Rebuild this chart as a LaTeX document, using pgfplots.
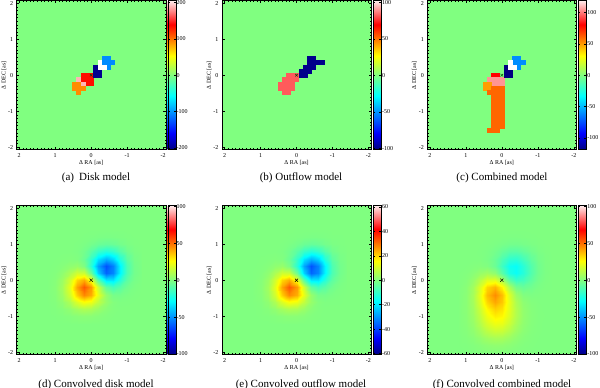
\documentclass[border=0pt]{standalone}
\usepackage{fontspec}
\setmainfont{Liberation Serif}
\usepackage{pgfplots}
\pgfplotsset{compat=1.18}

\definecolor{zerogreen}{RGB}{128,255,128}

\pgfplotsset{
  colormap={jetw}{rgb255(0cm)=(0,0,128); rgb255(11cm)=(0,0,255); rgb255(36cm)=(0,255,255); rgb255(50cm)=(128,255,128); rgb255(63cm)=(255,255,0); rgb255(84cm)=(255,0,0); rgb255(100cm)=(255,235,235)},
  /pgf/number format/assume math mode=true,
  panel/.style={
    width=149pt, height=149pt, scale only axis,
    xmin=-2.07, xmax=2.07, ymin=-2.07, ymax=2.07,
    x dir=reverse,
    xtick={-2,-1,0,1,2}, ytick={-2,-1,0,1,2},
    minor tick num=9,
    tick align=inside,
    major tick length=2.5pt, minor tick length=1.2pt,
    tick style={line width=0.3pt, black},
    axis line style={line width=0.4pt},
    tick label style={font=\fontsize{6}{7}\selectfont},
    label style={font=\fontsize{6}{7}\selectfont},
    xlabel={Δ RA [as]}, ylabel={Δ DEC [as]},
    xlabel style={at={(axis description cs:0.5,-0.088)}, anchor=center},
    ylabel style={at={(axis description cs:-0.086,0.5)}, anchor=center},
    axis background/.style={fill=zerogreen},
    axis on top,
    colormap name=jetw,
    colorbar,
    colorbar shift/.style={xshift=2pt},
    colorbar style={
      width=8pt,
      at={(parent axis.north east)}, anchor=north west,
      tick align=inside, major tick length=2pt,
      yticklabel style={font=\fontsize{6}{7}\selectfont, inner xsep=0.8pt},
    },
  },
  pix/.style={scatter, only marks, mark=square*, mark size=1.95pt, point meta=explicit,
    scatter/use mapped color={draw=mapped color, fill=mapped color}, mark options={line width=0.3pt}},
  wpix/.style={only marks, mark=square*, mark size=1.95pt, mark options={fill=white, draw=white, line width=0.3pt}},
  blur/.style={surf, shader=interp, mesh/cols=14, point meta=explicit},
  ctr/.style={only marks, mark=x, black, mark size=2.2pt, mark options={line width=0.5pt}},
}

\begin{document}
\begin{tikzpicture}
\useasboundingbox (0pt,0pt) rectangle (600pt,388pt);

% (a) disk model
\begin{axis}[panel, at={(16.7pt,238.3pt)}, anchor=south west,
  point meta min=-205, point meta max=205,
  colorbar style={ytick={-200,-100,0,100,200}}]
\addplot[pix] coordinates {
 (0,0) [135] (0.117,0) [135] (0.234,0) [135]
 (0,-0.117) [135] (0.117,-0.117) [135] (0.234,-0.117) [135]
 (0,-0.234) [135] (0.117,-0.234) [135]
 (0.351,-0.117) [190] (0.234,-0.234) [190]
 (0.351,-0.234) [92] (0.468,-0.234) [92] (0.234,-0.351) [92] (0.351,-0.351) [92] (0.468,-0.351) [92] (0.351,-0.468) [92]
 (-0.117,0) [-200] (-0.234,0) [-200] (-0.117,0.117) [-200] (-0.234,0.117) [-200] (-0.117,0.234) [-200]
 (-0.351,0.351) [-104] (-0.468,0.351) [-104] (-0.585,0.351) [-104] (-0.351,0.468) [-104] (-0.468,0.468) [-104] (-0.468,0.234) [-104]
};
\addplot[wpix] coordinates {(-0.234,0.234) (-0.351,0.234) (-0.234,0.351)};
\addplot[ctr, mark size=1.8pt, draw=black!70!green] coordinates {(0,0)};
\end{axis}

% (b) outflow model
\begin{axis}[panel, at={(222pt,238.3pt)}, anchor=south west,
  point meta min=-102, point meta max=102,
  colorbar style={ytick={-100,-50,0,50,100}}]
\addplot[pix] coordinates {
 (0,0) [82] (0.117,0) [82] (0.234,0) [82]
 (0,-0.117) [82] (0.117,-0.117) [82] (0.234,-0.117) [82] (0.351,-0.117) [82]
 (0.117,-0.234) [82] (0.234,-0.234) [82] (0.351,-0.234) [82] (0.468,-0.234) [82]
 (0.117,-0.351) [82] (0.234,-0.351) [82] (0.351,-0.351) [82] (0.468,-0.351) [82]
 (0.234,-0.468) [82] (0.351,-0.468) [82]
 (-0.117,0) [-100] (-0.234,0) [-100]
 (-0.117,0.117) [-100] (-0.234,0.117) [-100] (-0.351,0.117) [-100]
 (-0.234,0.234) [-100] (-0.351,0.234) [-100] (-0.468,0.234) [-100]
 (-0.351,0.351) [-100] (-0.468,0.351) [-100] (-0.585,0.351) [-100] (-0.702,0.351) [-100]
 (-0.351,0.468) [-100] (-0.468,0.468) [-100]
};
\addplot[ctr, mark size=1.8pt, draw=black!70!green] coordinates {(0,0)};
\end{axis}

% (c) combined model
\begin{axis}[panel, at={(427.3pt,238.3pt)}, anchor=south west,
  point meta min=-119, point meta max=119,
  colorbar style={ytick={-100,-50,0,50,100}}]
\addplot[pix] coordinates {
 (0.117,0) [81] (0.234,0) [81]
 (0,-0.117) [105] (0.117,-0.117) [105] (0.234,-0.117) [105] (0.351,-0.117) [105]
 (0,-0.234) [105] (0.117,-0.234) [105] (0.234,-0.234) [105]
 (0.351,-0.234) [50] (0.468,-0.234) [50] (0.351,-0.351) [50] (0.468,-0.351) [50]
 (0,-0.351) [61] (0.117,-0.351) [61] (0.234,-0.351) [61]
 (0,-0.468) [61] (0.117,-0.468) [61] (0.234,-0.468) [61] (0.351,-0.468) [61]
 (0,-0.585) [61] (0.117,-0.585) [61] (0.234,-0.585) [61]
 (0,-0.702) [61] (0.117,-0.702) [61] (0.234,-0.702) [61]
 (0,-0.819) [61] (0.117,-0.819) [61] (0.234,-0.819) [61]
 (0,-0.936) [61] (0.117,-0.936) [61] (0.234,-0.936) [61]
 (0,-1.053) [61] (0.117,-1.053) [61] (0.234,-1.053) [61]
 (0,-1.170) [61] (0.117,-1.170) [61] (0.234,-1.170) [61]
 (0,-1.287) [61] (0.117,-1.287) [61] (0.234,-1.287) [61]
 (0,-1.404) [61] (0.117,-1.404) [61] (0.234,-1.404) [61]
 (0.117,-1.521) [61] (0.234,-1.521) [61] (0.351,-1.521) [61]
 (-0.117,0) [-119] (-0.234,0) [-119] (-0.117,0.117) [-119] (-0.234,0.117) [-119] (-0.117,0.234) [-119]
 (-0.351,0.351) [-60] (-0.468,0.351) [-60] (-0.585,0.351) [-60] (-0.351,0.468) [-60] (-0.468,0.468) [-60] (-0.468,0.234) [-60]
};
\addplot[wpix] coordinates {(-0.234,0.234) (-0.351,0.234) (-0.234,0.351)};
\addplot[ctr, mark size=1.8pt, draw=black!70!green] coordinates {(0,0)};
\end{axis}

% (d) convolved disk model
\begin{axis}[panel, at={(16.7pt,33.3pt)}, anchor=south west,
  point meta min=-101, point meta max=101,
  colorbar style={ytick={-100,-50,0,50,100}}]
\addplot[blur] coordinates {
(-1.4,-1.2)[0] (-1.2,-1.2)[0] (-1.0,-1.2)[0] (-0.8,-1.2)[0] (-0.6,-1.2)[0] (-0.4,-1.2)[0.1] (-0.2,-1.2)[0.2] (0,-1.2)[0.3] (0.2,-1.2)[0.4] (0.4,-1.2)[0.3] (0.6,-1.2)[0.1] (0.8,-1.2)[0] (1.0,-1.2)[0] (1.2,-1.2)[0]
(-1.4,-1.0)[0] (-1.2,-1.0)[0] (-1.0,-1.0)[0] (-0.8,-1.0)[0] (-0.6,-1.0)[0.1] (-0.4,-1.0)[0.5] (-0.2,-1.0)[1.3] (0,-1.0)[2.1] (0.2,-1.0)[2.3] (0.4,-1.0)[1.7] (0.6,-1.0)[0.9] (0.8,-1.0)[0.3] (1.0,-1.0)[0.1] (1.2,-1.0)[0]
(-1.4,-0.8)[0] (-1.2,-0.8)[0] (-1.0,-0.8)[0] (-0.8,-0.8)[0] (-0.6,-0.8)[0.4] (-0.4,-0.8)[1.9] (-0.2,-0.8)[5.1] (0,-0.8)[8.5] (0.2,-0.8)[9.4] (0.4,-0.8)[7.0] (0.6,-0.8)[3.5] (0.8,-0.8)[1.2] (1.0,-0.8)[0.3] (1.2,-0.8)[0]
(-1.4,-0.6)[0] (-1.2,-0.6)[-0.1] (-1.0,-0.6)[-0.2] (-0.8,-0.6)[-0.3] (-0.6,-0.6)[0.6] (-0.4,-0.6)[4.6] (-0.2,-0.6)[13.2] (0,-0.6)[22.8] (0.2,-0.6)[25.5] (0.4,-0.6)[19.0] (0.6,-0.6)[9.4] (0.8,-0.6)[3.2] (1.0,-0.6)[0.7] (1.2,-0.6)[0.1]
(-1.4,-0.4)[0] (-1.2,-0.4)[-0.3] (-1.0,-0.4)[-1.0] (-0.8,-0.4)[-2.2] (-0.6,-0.4)[-2.0] (-0.4,-0.4)[4.6] (-0.2,-0.4)[21.1] (0,-0.4)[39.9] (0.2,-0.4)[46.0] (0.4,-0.4)[34.6] (0.6,-0.4)[17.2] (0.8,-0.4)[5.8] (1.0,-0.4)[1.3] (1.2,-0.4)[0.2]
(-1.4,-0.2)[-0.1] (-1.2,-0.2)[-0.9] (-1.0,-0.2)[-3.3] (-0.8,-0.2)[-8.5] (-0.6,-0.2)[-12.8] (-0.4,-0.2)[-6.8] (-0.2,-0.2)[15.8] (0,-0.2)[43.4] (0.2,-0.2)[54.3] (0.4,-0.2)[41.7] (0.6,-0.2)[20.9] (0.8,-0.2)[7.0] (1.0,-0.2)[1.6] (1.2,-0.2)[0.2]
(-1.4,0)[-0.3] (-1.2,0)[-1.9] (-1.0,0)[-7.5] (-0.8,0)[-19.7] (-0.6,0)[-33.4] (-0.4,0)[-32.9] (-0.2,0)[-9.1] (0,0)[23.7] (0.2,0)[40.2] (0.4,0)[33.1] (0.6,0)[17.0] (0.8,0)[5.7] (1.0,0)[1.3] (1.2,0)[0.2]
(-1.4,0.2)[-0.5] (-1.2,0.2)[-2.8] (-1.0,0.2)[-11.3] (-0.8,0.2)[-29.9] (-0.6,0.2)[-52.4] (-0.4,0.2)[-58.9] (-0.2,0.2)[-37.8] (0,0.2)[-4.7] (0.2,0.2)[15.6] (0.4,0.2)[16.6] (0.6,0.2)[9.1] (0.8,0.2)[3.1] (1.0,0.2)[0.7] (1.2,0.2)[0.1]
(-1.4,0.4)[-0.5] (-1.2,0.4)[-2.8] (-1.0,0.4)[-11.3] (-0.8,0.4)[-30.1] (-0.6,0.4)[-53.4] (-0.4,0.4)[-62.6] (-0.2,0.4)[-46.7] (0,0.4)[-19.4] (0.2,0.4)[-0.6] (0.4,0.4)[4.6] (0.6,0.4)[3.1] (0.8,0.4)[1.1] (1.0,0.4)[0.3] (1.2,0.4)[0]
(-1.4,0.6)[-0.3] (-1.2,0.6)[-1.9] (-1.0,0.6)[-7.6] (-0.8,0.6)[-20.2] (-0.6,0.6)[-36.1] (-0.4,0.6)[-42.9] (-0.2,0.6)[-33.5] (0,0.6)[-16.6] (0.2,0.6)[-4.4] (0.4,0.6)[0.1] (0.6,0.6)[0.6] (0.8,0.6)[0.3] (1.0,0.6)[0.1] (1.2,0.6)[0]
(-1.4,0.8)[-0.1] (-1.2,0.8)[-0.9] (-1.0,0.8)[-3.4] (-0.8,0.8)[-9.1] (-0.6,0.8)[-16.3] (-0.4,0.8)[-19.4] (-0.2,0.8)[-15.4] (0,0.8)[-8.1] (0.2,0.8)[-2.7] (0.4,0.8)[-0.5] (0.6,0.8)[0] (0.8,0.8)[0] (1.0,0.8)[0] (1.2,0.8)[0]
(-1.4,1.0)[0] (-1.2,1.0)[-0.3] (-1.0,1.0)[-1.0] (-0.8,1.0)[-2.7] (-0.6,1.0)[-4.9] (-0.4,1.0)[-5.8] (-0.2,1.0)[-4.7] (0,1.0)[-2.5] (0.2,1.0)[-0.9] (0.4,1.0)[-0.2] (0.6,1.0)[0] (0.8,1.0)[0] (1.0,1.0)[0] (1.2,1.0)[0]
(-1.4,1.2)[0] (-1.2,1.2)[-0.1] (-1.0,1.2)[-0.2] (-0.8,1.2)[-0.6] (-0.6,1.2)[-1.0] (-0.4,1.2)[-1.2] (-0.2,1.2)[-0.9] (0,1.2)[-0.5] (0.2,1.2)[-0.2] (0.4,1.2)[0] (0.6,1.2)[0] (0.8,1.2)[0] (1.0,1.2)[0] (1.2,1.2)[0]
(-1.4,1.4)[0] (-1.2,1.4)[0] (-1.0,1.4)[0] (-0.8,1.4)[-0.1] (-0.6,1.4)[-0.1] (-0.4,1.4)[-0.2] (-0.2,1.4)[-0.1] (0,1.4)[-0.1] (0.2,1.4)[0] (0.4,1.4)[0] (0.6,1.4)[0] (0.8,1.4)[0] (1.0,1.4)[0] (1.2,1.4)[0]
};
\addplot[ctr] coordinates {(0,0)};
\end{axis}

% (e) convolved outflow model
\begin{axis}[panel, at={(222pt,33.3pt)}, anchor=south west,
  point meta min=-61, point meta max=61,
  colorbar style={ytick={-60,-40,-20,0,20,40,60}}]
\addplot[blur] coordinates {
(-1.4,-1.2)[0] (-1.2,-1.2)[0] (-1.0,-1.2)[0] (-0.8,-1.2)[0] (-0.6,-1.2)[0] (-0.4,-1.2)[0.1] (-0.2,-1.2)[0.1] (0,-1.2)[0.2] (0.2,-1.2)[0.2] (0.4,-1.2)[0.2] (0.6,-1.2)[0.1] (0.8,-1.2)[0] (1.0,-1.2)[0] (1.2,-1.2)[0]
(-1.4,-1.0)[0] (-1.2,-1.0)[0] (-1.0,-1.0)[0] (-0.8,-1.0)[0] (-0.6,-1.0)[0.1] (-0.4,-1.0)[0.3] (-0.2,-1.0)[0.8] (0,-1.0)[1.3] (0.2,-1.0)[1.4] (0.4,-1.0)[1.0] (0.6,-1.0)[0.5] (0.8,-1.0)[0.2] (1.0,-1.0)[0.1] (1.2,-1.0)[0]
(-1.4,-0.8)[0] (-1.2,-0.8)[0] (-1.0,-0.8)[0] (-0.8,-0.8)[0] (-0.6,-0.8)[0.2] (-0.4,-0.8)[1.1] (-0.2,-0.8)[3.1] (0,-0.8)[5.1] (0.2,-0.8)[5.6] (0.4,-0.8)[4.2] (0.6,-0.8)[2.1] (0.8,-0.8)[0.7] (1.0,-0.8)[0.2] (1.2,-0.8)[0]
(-1.4,-0.6)[0] (-1.2,-0.6)[-0.1] (-1.0,-0.6)[-0.1] (-0.8,-0.6)[-0.2] (-0.6,-0.6)[0.4] (-0.4,-0.6)[2.8] (-0.2,-0.6)[7.9] (0,-0.6)[13.7] (0.2,-0.6)[15.3] (0.4,-0.6)[11.4] (0.6,-0.6)[5.6] (0.8,-0.6)[1.9] (1.0,-0.6)[0.4] (1.2,-0.6)[0.1]
(-1.4,-0.4)[0] (-1.2,-0.4)[-0.2] (-1.0,-0.4)[-0.6] (-0.8,-0.4)[-1.3] (-0.6,-0.4)[-1.2] (-0.4,-0.4)[2.8] (-0.2,-0.4)[12.7] (0,-0.4)[23.9] (0.2,-0.4)[27.6] (0.4,-0.4)[20.8] (0.6,-0.4)[10.3] (0.8,-0.4)[3.5] (1.0,-0.4)[0.8] (1.2,-0.4)[0.1]
(-1.4,-0.2)[-0.1] (-1.2,-0.2)[-0.5] (-1.0,-0.2)[-2.0] (-0.8,-0.2)[-5.1] (-0.6,-0.2)[-7.7] (-0.4,-0.2)[-4.1] (-0.2,-0.2)[9.5] (0,-0.2)[26.0] (0.2,-0.2)[32.6] (0.4,-0.2)[25.0] (0.6,-0.2)[12.5] (0.8,-0.2)[4.2] (1.0,-0.2)[1.0] (1.2,-0.2)[0.1]
(-1.4,0)[-0.2] (-1.2,0)[-1.1] (-1.0,0)[-4.5] (-0.8,0)[-11.8] (-0.6,0)[-20.0] (-0.4,0)[-19.7] (-0.2,0)[-5.5] (0,0)[14.2] (0.2,0)[24.1] (0.4,0)[19.9] (0.6,0)[10.2] (0.8,0)[3.4] (1.0,0)[0.8] (1.2,0)[0.1]
(-1.4,0.2)[-0.3] (-1.2,0.2)[-1.7] (-1.0,0.2)[-6.8] (-0.8,0.2)[-17.9] (-0.6,0.2)[-31.4] (-0.4,0.2)[-35.3] (-0.2,0.2)[-22.7] (0,0.2)[-2.8] (0.2,0.2)[9.4] (0.4,0.2)[10.0] (0.6,0.2)[5.5] (0.8,0.2)[1.9] (1.0,0.2)[0.4] (1.2,0.2)[0.1]
(-1.4,0.4)[-0.3] (-1.2,0.4)[-1.7] (-1.0,0.4)[-6.8] (-0.8,0.4)[-18.1] (-0.6,0.4)[-32.0] (-0.4,0.4)[-37.6] (-0.2,0.4)[-28.0] (0,0.4)[-11.6] (0.2,0.4)[-0.4] (0.4,0.4)[2.8] (0.6,0.4)[1.9] (0.8,0.4)[0.7] (1.0,0.4)[0.2] (1.2,0.4)[0]
(-1.4,0.6)[-0.2] (-1.2,0.6)[-1.1] (-1.0,0.6)[-4.6] (-0.8,0.6)[-12.1] (-0.6,0.6)[-21.7] (-0.4,0.6)[-25.7] (-0.2,0.6)[-20.1] (0,0.6)[-10.0] (0.2,0.6)[-2.6] (0.4,0.6)[0.1] (0.6,0.6)[0.4] (0.8,0.6)[0.2] (1.0,0.6)[0.1] (1.2,0.6)[0]
(-1.4,0.8)[-0.1] (-1.2,0.8)[-0.5] (-1.0,0.8)[-2.0] (-0.8,0.8)[-5.5] (-0.6,0.8)[-9.8] (-0.4,0.8)[-11.6] (-0.2,0.8)[-9.2] (0,0.8)[-4.9] (0.2,0.8)[-1.6] (0.4,0.8)[-0.3] (0.6,0.8)[0] (0.8,0.8)[0] (1.0,0.8)[0] (1.2,0.8)[0]
(-1.4,1.0)[0] (-1.2,1.0)[-0.2] (-1.0,1.0)[-0.6] (-0.8,1.0)[-1.6] (-0.6,1.0)[-2.9] (-0.4,1.0)[-3.5] (-0.2,1.0)[-2.8] (0,1.0)[-1.5] (0.2,1.0)[-0.5] (0.4,1.0)[-0.1] (0.6,1.0)[0] (0.8,1.0)[0] (1.0,1.0)[0] (1.2,1.0)[0]
(-1.4,1.2)[0] (-1.2,1.2)[-0.1] (-1.0,1.2)[-0.1] (-0.8,1.2)[-0.4] (-0.6,1.2)[-0.6] (-0.4,1.2)[-0.7] (-0.2,1.2)[-0.5] (0,1.2)[-0.3] (0.2,1.2)[-0.1] (0.4,1.2)[0] (0.6,1.2)[0] (0.8,1.2)[0] (1.0,1.2)[0] (1.2,1.2)[0]
(-1.4,1.4)[0] (-1.2,1.4)[0] (-1.0,1.4)[0] (-0.8,1.4)[-0.1] (-0.6,1.4)[-0.1] (-0.4,1.4)[-0.1] (-0.2,1.4)[-0.1] (0,1.4)[-0.1] (0.2,1.4)[0] (0.4,1.4)[0] (0.6,1.4)[0] (0.8,1.4)[0] (1.0,1.4)[0] (1.2,1.4)[0]
};
\addplot[ctr] coordinates {(0,0)};
\end{axis}

% (f) convolved combined model
\begin{axis}[panel, at={(427.3pt,33.3pt)}, anchor=south west,
  point meta min=-101, point meta max=101,
  colorbar style={ytick={-100,-50,0,50,100}}]
\addplot[blur] coordinates {
(-1.4,-2.0)[0] (-1.2,-2.0)[0] (-1.0,-2.0)[0] (-0.8,-2.0)[0] (-0.6,-2.0)[0.2] (-0.4,-2.0)[0.4] (-0.2,-2.0)[0.8] (0,-2.0)[1.1] (0.2,-2.0)[1.1] (0.4,-2.0)[0.9] (0.6,-2.0)[0.5] (0.8,-2.0)[0.2] (1.0,-2.0)[0.1] (1.2,-2.0)[0]
(-1.4,-1.8)[0] (-1.2,-1.8)[0] (-1.0,-1.8)[0] (-0.8,-1.8)[0.2] (-0.6,-1.8)[0.5] (-0.4,-1.8)[1.3] (-0.2,-1.8)[2.4] (0,-1.8)[3.3] (0.2,-1.8)[3.5] (0.4,-1.8)[2.7] (0.6,-1.8)[1.6] (0.8,-1.8)[0.7] (1.0,-1.8)[0.2] (1.2,-1.8)[0.1]
(-1.4,-1.6)[0] (-1.2,-1.6)[0] (-1.0,-1.6)[0.1] (-0.8,-1.6)[0.4] (-0.6,-1.6)[1.3] (-0.4,-1.6)[3.1] (-0.2,-1.6)[5.7] (0,-1.6)[8.0] (0.2,-1.6)[8.3] (0.4,-1.6)[6.5] (0.6,-1.6)[3.8] (0.8,-1.6)[1.7] (1.0,-1.6)[0.6] (1.2,-1.6)[0.1]
(-1.4,-1.4)[0] (-1.2,-1.4)[0] (-1.0,-1.4)[0.2] (-0.8,-1.4)[0.7] (-0.6,-1.4)[2.4] (-0.4,-1.4)[5.8] (-0.2,-1.4)[10.7] (0,-1.4)[14.9] (0.2,-1.4)[15.6] (0.4,-1.4)[12.3] (0.6,-1.4)[7.2] (0.8,-1.4)[3.2] (1.0,-1.4)[1.1] (1.2,-1.4)[0.3]
(-1.4,-1.2)[0] (-1.2,-1.2)[0] (-1.0,-1.2)[0.2] (-0.8,-1.2)[1.0] (-0.6,-1.2)[3.4] (-0.4,-1.2)[8.5] (-0.2,-1.2)[15.9] (0,-1.2)[22.2] (0.2,-1.2)[23.2] (0.4,-1.2)[18.3] (0.6,-1.2)[10.7] (0.8,-1.2)[4.7] (1.0,-1.2)[1.6] (1.2,-1.2)[0.4]
(-1.4,-1.0)[0] (-1.2,-1.0)[0.1] (-1.0,-1.0)[0.3] (-0.8,-1.0)[1.2] (-0.6,-1.0)[4.0] (-0.4,-1.0)[10.1] (-0.2,-1.0)[19.2] (0,-1.0)[27.3] (0.2,-1.0)[29.0] (0.4,-1.0)[22.9] (0.6,-1.0)[13.3] (0.8,-1.0)[5.8] (1.0,-1.0)[1.9] (1.2,-1.0)[0.5]
(-1.4,-0.8)[0] (-1.2,-0.8)[0] (-1.0,-0.8)[0.2] (-0.8,-0.8)[1.1] (-0.6,-0.8)[3.8] (-0.4,-0.8)[10.2] (-0.2,-0.8)[20.6] (0,-0.8)[30.9] (0.2,-0.8)[34.0] (0.4,-0.8)[27.1] (0.6,-0.8)[15.6] (0.8,-0.8)[6.5] (1.0,-0.8)[2.0] (1.2,-0.8)[0.5]
(-1.4,-0.6)[0] (-1.2,-0.6)[0] (-1.0,-0.6)[0.1] (-0.8,-0.6)[0.6] (-0.6,-0.6)[2.8] (-0.4,-0.6)[9.1] (-0.2,-0.6)[21.3] (0,-0.6)[35.2] (0.2,-0.6)[40.8] (0.4,-0.6)[33.0] (0.6,-0.6)[18.6] (0.8,-0.6)[7.4] (1.0,-0.6)[2.1] (1.2,-0.6)[0.4]
(-1.4,-0.4)[0] (-1.2,-0.4)[-0.1] (-1.0,-0.4)[-0.3] (-0.8,-0.4)[-0.6] (-0.6,-0.4)[0.3] (-0.4,-0.4)[5.8] (-0.2,-0.4)[19.4] (0,-0.4)[36.8] (0.2,-0.4)[45.3] (0.4,-0.4)[37.3] (0.6,-0.4)[20.8] (0.8,-0.4)[8.0] (1.0,-0.4)[2.1] (1.2,-0.4)[0.4]
(-1.4,-0.2)[-0.1] (-1.2,-0.2)[-0.3] (-1.0,-0.2)[-1.2] (-0.8,-0.2)[-3.3] (-0.6,-0.2)[-5.3] (-0.4,-0.2)[-2.6] (-0.2,-0.2)[9.6] (0,-0.2)[27.8] (0.2,-0.2)[38.4] (0.4,-0.2)[32.9] (0.6,-0.2)[18.5] (0.8,-0.2)[7.0] (1.0,-0.2)[1.8] (1.2,-0.2)[0.3]
(-1.4,0)[-0.1] (-1.2,0)[-0.6] (-1.0,0)[-2.5] (-0.8,0)[-7.2] (-0.6,0)[-13.5] (-0.4,0)[-15.8] (-0.2,0)[-7.4] (0,0)[8.8] (0.2,0)[20.5] (0.4,0)[19.8] (0.6,0)[11.5] (0.8,0)[4.4] (1.0,0)[1.1] (1.2,0)[0.2]
(-1.4,0.2)[-0.1] (-1.2,0.2)[-0.9] (-1.0,0.2)[-3.5] (-0.8,0.2)[-10.1] (-0.6,0.2)[-19.9] (-0.4,0.2)[-26.3] (-0.2,0.2)[-22.0] (0,0.2)[-8.6] (0.2,0.2)[3.2] (0.4,0.2)[6.9] (0.6,0.2)[4.7] (0.8,0.2)[1.9] (1.0,0.2)[0.5] (1.2,0.2)[0.1]
(-1.4,0.4)[-0.1] (-1.2,0.4)[-0.8] (-1.0,0.4)[-3.4] (-0.8,0.4)[-9.9] (-0.6,0.4)[-19.5] (-0.4,0.4)[-26.7] (-0.2,0.4)[-24.8] (0,0.4)[-14.8] (0.2,0.4)[-4.7] (0.4,0.4)[0.2] (0.6,0.4)[0.9] (0.8,0.4)[0.5] (1.0,0.4)[0.1] (1.2,0.4)[0]
(-1.4,0.6)[-0.1] (-1.2,0.6)[-0.6] (-1.0,0.6)[-2.3] (-0.8,0.6)[-6.6] (-0.6,0.6)[-13.2] (-0.4,0.6)[-18.2] (-0.2,0.6)[-17.3] (0,0.6)[-11.3] (0.2,0.6)[-4.8] (0.4,0.6)[-1.2] (0.6,0.6)[-0.1] (0.8,0.6)[0] (1.0,0.6)[0] (1.2,0.6)[0]
(-1.4,0.8)[0] (-1.2,0.8)[-0.3] (-1.0,0.8)[-1.1] (-0.8,0.8)[-3.1] (-0.6,0.8)[-6.2] (-0.4,0.8)[-8.5] (-0.2,0.8)[-8.2] (0,0.8)[-5.4] (0.2,0.8)[-2.5] (0.4,0.8)[-0.8] (0.6,0.8)[-0.2] (0.8,0.8)[0] (1.0,0.8)[0] (1.2,0.8)[0]
(-1.4,1.0)[0] (-1.2,1.0)[-0.1] (-1.0,1.0)[-0.3] (-0.8,1.0)[-1.0] (-0.6,1.0)[-2.0] (-0.4,1.0)[-2.8] (-0.2,1.0)[-2.7] (0,1.0)[-1.8] (0.2,1.0)[-0.8] (0.4,1.0)[-0.3] (0.6,1.0)[-0.1] (0.8,1.0)[0] (1.0,1.0)[0] (1.2,1.0)[0]
(-1.4,1.2)[0] (-1.2,1.2)[0] (-1.0,1.2)[-0.1] (-0.8,1.2)[-0.2] (-0.6,1.2)[-0.4] (-0.4,1.2)[-0.6] (-0.2,1.2)[-0.6] (0,1.2)[-0.4] (0.2,1.2)[-0.2] (0.4,1.2)[-0.1] (0.6,1.2)[0] (0.8,1.2)[0] (1.0,1.2)[0] (1.2,1.2)[0]
(-1.4,1.4)[0] (-1.2,1.4)[0] (-1.0,1.4)[0] (-0.8,1.4)[0] (-0.6,1.4)[-0.1] (-0.4,1.4)[-0.1] (-0.2,1.4)[-0.1] (0,1.4)[-0.1] (0.2,1.4)[0] (0.4,1.4)[0] (0.6,1.4)[0] (0.8,1.4)[0] (1.0,1.4)[0] (1.2,1.4)[0]
};
\addplot[ctr] coordinates {(0,0)};
\end{axis}

\begin{scope}[font=\fontsize{11}{13}\selectfont]
\node at (96pt,209.7pt) {(a)\hspace{0.45em}Disk model};
\node at (301pt,209.7pt) {(b) Outflow model};
\node at (502pt,209.7pt) {(c) Combined model};
\node at (96pt,3.6pt) {(d) Convolved disk model};
\node at (301pt,3.6pt) {(e) Convolved outflow model};
\node at (502pt,3.6pt) {(f) Convolved combined model};
\end{scope}
\end{tikzpicture}
\end{document}
